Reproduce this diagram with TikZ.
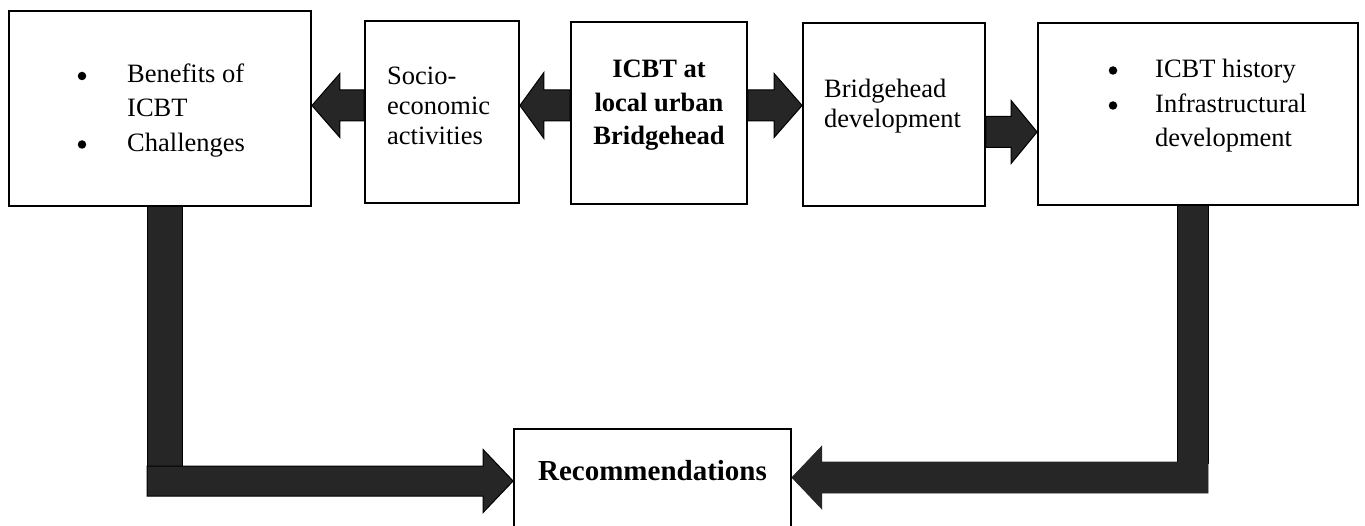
\documentclass[tikz,border=0pt]{standalone}
\usepackage{fontspec}
\setmainfont{Liberation Serif}
\usetikzlibrary{calc,backgrounds}
\definecolor{arrowfill}{HTML}{262626}
\tikzset{
  box/.style={draw=black, line width=1.8pt, fill=white, inner sep=0pt},
  blk/.style={fill=arrowfill, draw=black, line width=1pt, line join=miter},
  blkplain/.style={fill=arrowfill, draw=arrowfill, line width=0.6pt, line join=miter},
  txt/.style={anchor=base west, inner sep=0pt, font=\fontsize{26.5}{34}\selectfont},
  ctxt/.style={anchor=base, inner sep=0pt, font=\fontsize{26.5}{34}\selectfont\bfseries},
  bul/.style={circle, fill=black, inner sep=0pt, minimum size=8.5pt},
  rtxt/.style={anchor=base, inner sep=0pt, font=\fontsize{29}{34}\selectfont\bfseries}
}
% #1 start, #2 tip, #3 head length (signed, towards start), #4 shaft half width, #5 head half width, #6 style
\newcommand\blockarrow[6]{%
  \draw[#6] ($(#1)+(0,-#4)$) -- ($(#2)+(#3,-#4)$) -- ($(#2)+(#3,-#5)$) -- (#2)
    -- ($(#2)+(#3,#5)$) -- ($(#2)+(#3,#4)$) -- ($(#1)+(0,#4)$) -- cycle;}
\begin{document}
\begin{tikzpicture}[x=1pt,y=-1pt]
\useasboundingbox (0,0) rectangle (1365,526);
\clip (0,0) rectangle (1365,526);

% boxes
\node[box, minimum width=302pt, minimum height=195pt] (b1) at (160,108.5) {};
\node[box, minimum width=154pt, minimum height=182pt] (b2) at (442,112) {};
\node[box, minimum width=176pt, minimum height=182pt] (b3) at (659,113) {};
\node[box, minimum width=182pt, minimum height=183pt] (b4) at (894,114.5) {};
\node[box, minimum width=320pt, minimum height=182pt] (b5) at (1198,114) {};
\node[box, minimum width=277pt, minimum height=131pt] (rec) at (652.5,494.5) {};

% texts
\node[bul] (u1a) at (82,76) {};
\node[bul] (u1b) at (82,144.5) {};
\node[txt] (t1a) at (127,83) {Benefits of};
\node[txt] (t1b) at (127,117) {ICBT};
\node[txt] (t1c) at (127,152) {Challenges};

\node[txt] (t2a) at (387,85) {Socio-};
\node[txt] (t2b) at (387,115) {economic};
\node[txt] (t2c) at (387,145) {activities};

\node[ctxt] (t3a) at (659,78) {ICBT at};
\node[ctxt] (t3b) at (659,112) {local urban};
\node[ctxt] (t3c) at (659,145) {Bridgehead};

\node[txt] (t4a) at (824,98) {Bridgehead};
\node[txt] (t4b) at (824,128) {development};

\node[bul] (u5a) at (1113,70.5) {};
\node[bul] (u5b) at (1113,105.5) {};
\node[txt] (t5a) at (1155,78) {ICBT history};
\node[txt] (t5b) at (1155,113) {Infrastructural};
\node[txt] (t5c) at (1155,147) {development};

\node[rtxt] (trec) at (652.5,480) {Recommendations};

% helper coordinates
\coordinate (ya) at (0,105.5);
\coordinate (yb) at (0,132);
\coordinate (xl) at (147,0);
\coordinate (xr) at (1208,0);

\begin{scope}[on background layer]
  % top row arrows
  \coordinate (s1) at (b2.west |- ya);
  \coordinate (e1) at (b1.east |- ya);
  \blockarrow{s1}{e1}{28}{15.5}{32}{blk}
  \coordinate (s2) at (b3.west |- ya);
  \coordinate (e2) at (b2.east |- ya);
  \blockarrow{s2}{e2}{24}{15.5}{33}{blk}
  \coordinate (s3) at (b3.east |- ya);
  \coordinate (e3) at (b4.west |- ya);
  \blockarrow{s3}{e3}{-28}{15.5}{32}{blk}
  \coordinate (s4) at (b4.east |- yb);
  \coordinate (e4) at (b5.west |- yb);
  \blockarrow{s4}{e4}{-26}{15.5}{31.5}{blk}

  % left L-shaped arrow
  \coordinate (Lc) at (147,481);
  \coordinate (Lt) at (rec.west |- Lc);
  \draw[blk] (b1.south -| xl) rectangle (182,466);
  \blockarrow{Lc}{Lt}{-30}{15}{31.5}{blk}

  % right L-shaped arrow
  \coordinate (Rc) at (1208,477.5);
  \coordinate (Rt) at (rec.east |- Rc);
  \draw[blk] (b5.south -| xr) rectangle (1177,463);
  \blockarrow{Rc}{Rt}{30}{15.5}{31.5}{blkplain}
\end{scope}
\end{tikzpicture}
\end{document}
